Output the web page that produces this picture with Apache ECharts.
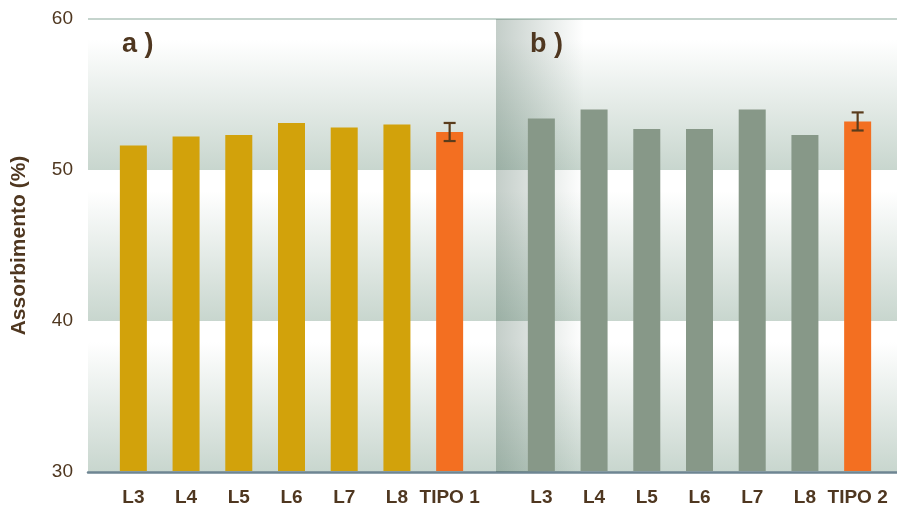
<!DOCTYPE html>
<html>
<head>
<meta charset="utf-8">
<script src="https://cdn.jsdelivr.net/npm/echarts@6/dist/echarts.min.js"></script>
<style>
  html, body { margin: 0; padding: 0; background: #fff; }
  #chart { width: 897px; height: 507px; }
</style>
</head>
<body>
<div id="chart"></div>
<script>
var categoriesA = ['L3', 'L4', 'L5', 'L6', 'L7', 'L8', 'TIPO 1'];
var valuesA = [51.6, 52.2, 52.3, 53.1, 52.8, 53.0, 52.5];
var categoriesB = ['L3', 'L4', 'L5', 'L6', 'L7', 'L8', 'TIPO 2'];
var valuesB = [53.4, 54.0, 52.7, 52.7, 54.0, 52.3, 53.2];
var tipoErrors = [0.6, 0.6];   // +/- on TIPO 1 and TIPO 2
var panelLabels = ['a )', 'b )'];
var yMin = 30, yMax = 60, yStep = 10;

var textColor = '#4f3720';
var colorA = '#d2a20b', colorB = '#879888', colorTipo = '#f36f21';

// last category of each panel is the TIPO bar, it has the error bar
function errData(values, err) {
    var i = values.length - 1;
    return [[i, values[i] - err, values[i] + err]];
}

function renderErr(params, api) {
    var x = api.value(0);
    var top = api.coord([x, api.value(2)]);
    var bot = api.coord([x, api.value(1)]);
    var half = 6;
    var st = { stroke: '#5a3c1c', lineWidth: 2.2 };
    return {
        type: 'group',
        children: [
            { type: 'line', shape: { x1: top[0], y1: top[1], x2: bot[0], y2: bot[1] }, style: st },
            { type: 'line', shape: { x1: top[0] - half, y1: top[1], x2: top[0] + half, y2: top[1] }, style: st },
            { type: 'line', shape: { x1: bot[0] - half, y1: bot[1], x2: bot[0] + half, y2: bot[1] }, style: st }
        ]
    };
}

function barColor(base) {
    return function (p) {
        return p.name.indexOf('TIPO') === 0 ? colorTipo : base;
    };
}

var band = {
    type: 'linear', x: 0, y: 0, x2: 0, y2: 1,
    colorStops: [
        { offset: 0, color: '#ffffff' },
        { offset: 0.14, color: '#ffffff' },
        { offset: 1, color: '#c8d6ce' }
    ]
};

var catAxis = function (gridIndex, data) {
    return {
        type: 'category', gridIndex: gridIndex, data: data,
        axisLine: { show: false }, axisTick: { show: false },
        axisLabel: {
            interval: 0, color: textColor, fontSize: 19, fontWeight: 'bold',
            fontFamily: 'Liberation Sans', margin: 17
        }
    };
};
var hiddenY = function (gridIndex) {
    return { type: 'value', gridIndex: gridIndex, min: yMin, max: yMax, interval: yStep, show: false };
};

var chart = echarts.init(document.getElementById('chart'));
chart.setOption({
    animation: false,
    grid: [
        { left: 88, right: 0, top: 19, bottom: 35 },
        { left: 107, width: 369, top: 19, bottom: 35 },
        { left: 515, width: 369, top: 19, bottom: 35 }
    ],
    xAxis: [
        {
            type: 'value', gridIndex: 0, min: 0, max: 1,
            axisLine: { show: true, onZero: false, lineStyle: { color: '#6e8592', width: 2.5 } },
            axisTick: { show: false }, axisLabel: { show: false }, splitLine: { show: false }
        },
        catAxis(1, categoriesA),
        catAxis(2, categoriesB)
    ],
    yAxis: [
        {
            type: 'value', gridIndex: 0, min: yMin, max: yMax, interval: yStep,
            axisLine: { show: false }, axisTick: { show: false },
            axisLabel: { color: textColor, fontSize: 19, fontFamily: 'Liberation Sans', margin: 15 },
            name: 'Assorbimento (%)', nameLocation: 'middle', nameGap: 58,
            nameTextStyle: { color: textColor, fontSize: 21, fontWeight: 'bold', fontFamily: 'Liberation Sans' },
            splitArea: { show: true, areaStyle: { color: [band] } },
            splitLine: { show: true, lineStyle: { color: ['transparent', 'transparent', 'transparent', '#c5d4cd'], width: 2 } }
        },
        hiddenY(1),
        hiddenY(2)
    ],
    graphic: [
        {
            type: 'rect', z: 1, left: 496, top: 19,
            shape: { width: 88, height: 453 },
            style: {
                fill: {
                    type: 'linear', x: 0, y: 0, x2: 1, y2: 0,
                    colorStops: [
                        { offset: 0, color: 'rgba(20,60,40,0.25)' },
                        { offset: 1, color: 'rgba(20,60,40,0)' }
                    ]
                }
            }
        },
        {
            type: 'text', z: 5, left: 122, top: 31,
            style: { text: panelLabels[0], fill: textColor, font: 'bold 27px "Liberation Sans"' }
        },
        {
            type: 'text', z: 5, left: 530, top: 31,
            style: { text: panelLabels[1], fill: textColor, font: 'bold 27px "Liberation Sans"' }
        }
    ],
    series: [
        {
            type: 'bar', xAxisIndex: 1, yAxisIndex: 1, barWidth: 27, z: 3,
            data: valuesA, itemStyle: { color: barColor(colorA) }
        },
        {
            type: 'bar', xAxisIndex: 2, yAxisIndex: 2, barWidth: 27, z: 3,
            data: valuesB, itemStyle: { color: barColor(colorB) }
        },
        {
            type: 'custom', xAxisIndex: 1, yAxisIndex: 1, z: 4,
            renderItem: renderErr, data: errData(valuesA, tipoErrors[0])
        },
        {
            type: 'custom', xAxisIndex: 2, yAxisIndex: 2, z: 4,
            renderItem: renderErr, data: errData(valuesB, tipoErrors[1])
        }
    ]
});
</script>
</body>
</html>
